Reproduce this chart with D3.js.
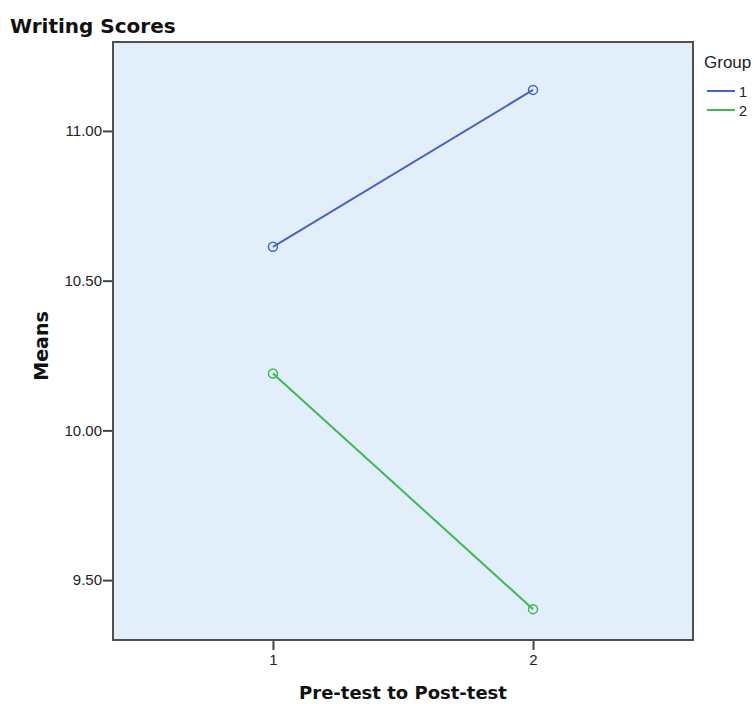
<!DOCTYPE html>
<html><head><meta charset="utf-8">
<script src="https://cdn.jsdelivr.net/npm/d3@7"></script>
<style>body{margin:0;background:#fff}svg{display:block;font-family:"Liberation Sans",Arial,sans-serif}</style>
</head><body><svg id="c" width="754" height="704"></svg>
<script>
const timePoints = [1, 2];
const groups = ["1", "2"];
const group1Means = [10.613, 11.137];
const group2Means = [10.19, 9.403];
const yTicks = [9.5, 10.0, 10.5, 11.0];
const xTicks = [1, 2];
const colors = ["#4a62c2", "#3dba52"];

const svg = d3.select("#c");
const L = 113, R = 693, T = 42, B = 640;
const x = d3.scaleLinear().domain([0.385, 2.615]).range([L, R]);
const y = d3.scaleLinear().domain([9.3, 11.297]).range([B, T]);

svg.append("rect").attr("x", L).attr("y", T).attr("width", R - L).attr("height", B - T)
  .attr("fill", "#e2eefa").attr("stroke", "none");

const yAxis = svg.append("g").attr("transform", `translate(${L},0)`)
  .call(d3.axisLeft(y).tickValues(yTicks).tickFormat(d3.format(".2f")).tickSize(10).tickPadding(1));
const xAxis = svg.append("g").attr("transform", `translate(0,${B})`)
  .call(d3.axisBottom(x).tickValues(xTicks).tickFormat(d3.format("d")).tickSize(10).tickPadding(4));
[yAxis, xAxis].forEach(a => {
  a.select(".domain").remove();
  a.selectAll("line").attr("stroke", "#444").attr("stroke-width", 2);
  a.selectAll("text").attr("fill", "#222").style("font-size", "15px").style("font-family", "Liberation Sans, Arial, sans-serif");
});

svg.append("rect").attr("x", L).attr("y", T).attr("width", R - L).attr("height", B - T)
  .attr("fill", "none").attr("stroke", "#505050").attr("stroke-width", 2);

const series = [group1Means, group2Means];
const line = d3.line().x((d, i) => x(timePoints[i])).y(d => y(d));
series.forEach((s, k) => {
  svg.append("path").datum(s).attr("d", line).attr("fill", "none")
    .attr("stroke", colors[k]).attr("stroke-width", 2);
  svg.selectAll(null).data(s).enter().append("circle")
    .attr("cx", (d, i) => x(timePoints[i])).attr("cy", d => y(d)).attr("r", 4.5)
    .attr("fill", "none").attr("stroke", colors[k]).attr("stroke-width", 1.5);
});

const boldFont = "DejaVu Sans, Verdana, sans-serif";
svg.append("text").attr("x", 10).attr("y", 33).text("Writing Scores")
  .style("font-weight", "bold").style("font-size", "20px").style("font-family", boldFont).attr("fill", "#111");
svg.append("text").attr("transform", `translate(48,346) rotate(-90)`)
  .attr("text-anchor", "middle").text("Means")
  .style("font-weight", "bold").style("font-size", "19px").style("font-family", boldFont).attr("fill", "#111");
svg.append("text").attr("x", 403).attr("y", 699).attr("text-anchor", "middle")
  .text("Pre-test to Post-test").style("font-weight", "bold").style("font-size", "18px").style("font-family", boldFont).attr("fill", "#111");

const lg = svg.append("g");
lg.append("text").attr("x", 704).attr("y", 68).text("Group").style("font-size", "17px").attr("fill", "#222");
groups.forEach((g, i) => {
  const yy = 91 + i * 19;
  lg.append("line").attr("x1", 707).attr("x2", 735).attr("y1", yy).attr("y2", yy)
    .attr("stroke", colors[i]).attr("stroke-width", 2);
  lg.append("text").attr("x", 739).attr("y", yy + 6).text(g).style("font-size", "14.5px").attr("fill", "#222");
});
</script></body></html>
